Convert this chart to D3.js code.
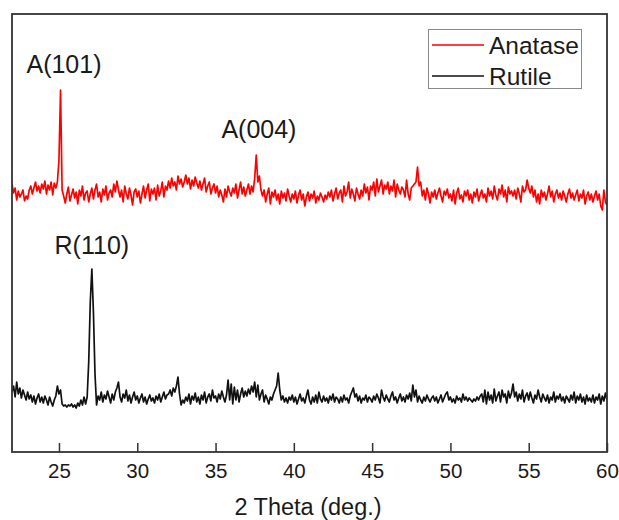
<!DOCTYPE html>
<html>
<head>
<meta charset="utf-8">
<script src="https://cdn.jsdelivr.net/npm/d3@7"></script>
<style>
  html, body { margin: 0; padding: 0; background: #fff; }
  svg { display: block; font-family: "Liberation Sans", Arial, sans-serif; }
</style>
</head>
<body>
<svg id="chart" width="619" height="520"></svg>
<script>
// 2θ grid: 22.0 → 60.0 in 0.1° steps
const twoThetaStart = 22.0;
const twoThetaStep = 0.1;

// Anatase intensity (a.u., stacked offset included), one row per degree
const anatase = [
  268,259,264,252,261,255,258,262,251,256,   // 22
  253,262,266,258,264,270,261,266,259,268,   // 23
  263,271,258,267,262,270,257,269,264,270,   // 24
  292,362,262,256,249,258,265,251,257,263,   // 25
  254,260,248,262,256,266,252,259,261,250,   // 26
  258,264,253,262,268,255,260,250,263,257,   // 27
  266,252,259,262,255,268,260,271,262,255,   // 28
  262,250,266,258,253,264,257,247,260,263,   // 29
  255,261,249,258,266,254,262,268,251,263,   // 30
  258,264,252,267,256,261,270,255,266,262,   // 31
  271,264,274,266,270,262,276,268,273,265,   // 32
  270,277,268,274,263,272,266,275,269,264,   // 33
  271,262,268,274,260,266,270,258,264,268,   // 34
  259,266,255,262,257,250,263,255,266,260,   // 35
  256,264,259,268,254,262,270,258,265,256,   // 36
  262,268,258,266,260,274,297,270,276,262,   // 37
  256,262,250,258,264,248,260,255,262,252,   // 38
  258,248,261,254,259,251,263,256,250,258,   // 39
  253,261,249,257,262,252,258,246,255,260,   // 40
  251,258,254,261,249,256,252,259,255,250,   // 41
  257,253,260,255,262,251,258,264,253,259,   // 42
  262,250,266,256,260,270,254,263,258,251,   // 43
  264,258,253,262,256,268,259,265,252,266,   // 44
  262,270,256,273,260,266,272,258,267,263,   // 45
  270,258,266,261,272,255,268,262,258,265,   // 46
  262,255,272,258,252,264,266,268,270,285,   // 47
  266,270,256,262,252,264,258,249,260,255,   // 48
  262,253,259,264,256,250,261,257,263,254,   // 49
  258,251,262,248,259,264,253,257,250,261,   // 50
  256,262,252,258,249,260,255,263,251,257,   // 51
  262,254,258,250,264,256,261,253,266,257,   // 52
  252,263,258,267,255,262,250,265,258,261,   // 53
  256,262,253,264,258,250,266,260,262,272,   // 54
  264,259,266,255,262,250,258,248,262,255,   // 55
  260,252,258,266,255,261,250,258,262,254,   // 56
  259,252,261,256,250,258,263,254,259,252,   // 57
  257,262,251,258,254,262,248,256,260,252,   // 58
  258,250,256,261,252,258,246,242,262,250,   // 59
  247                                        // 60
];

// Rutile intensity (a.u.)
const rutile = [
  60,66,55,70,58,64,54,62,57,52,   // 22
  60,53,57,50,56,48,54,58,50,55,   // 23
  49,56,52,47,55,50,46,52,56,66,   // 24
  58,62,48,46,47,45,47,46,48,45,   // 25
  47,44,49,46,52,47,55,48,55,90,   // 26
  150,183,140,78,47,56,52,60,50,57, // 27
  53,61,55,49,58,52,60,64,70,55,   // 28
  50,58,54,62,51,57,49,55,60,52,   // 29
  56,49,54,58,50,55,48,53,57,51,   // 30
  54,49,56,52,58,50,55,60,53,57,   // 31
  58,62,56,64,60,66,75,58,47,52,   // 32
  49,55,51,58,48,56,52,59,50,55,   // 33
  48,57,52,60,49,55,58,51,62,54,   // 34
  56,50,58,53,61,55,50,57,72,52,   // 35
  68,48,65,52,62,50,58,64,55,61,   // 36
  56,63,58,66,60,70,55,67,52,58,   // 37
  62,50,57,53,48,55,52,58,62,66,   // 38
  79,62,52,56,50,54,49,55,52,57,   // 39
  50,55,48,53,58,51,54,49,56,62,   // 40
  52,48,55,50,57,49,60,53,50,56,   // 41
  51,54,49,56,52,58,50,55,53,49,   // 42
  55,50,57,52,54,49,56,60,64,55,   // 43
  58,51,56,49,54,52,57,50,55,53,   // 44
  50,56,52,58,54,49,62,55,51,57,   // 45
  53,50,56,60,52,55,49,54,58,51,   // 46
  55,50,57,53,59,51,67,55,62,50,   // 47
  56,52,49,55,51,57,53,50,54,56,   // 48
  51,55,49,53,57,50,54,58,60,52,   // 49
  55,50,53,49,56,52,54,50,58,52,   // 50
  55,51,54,52,50,53,51,55,52,56,   // 51
  58,50,62,48,60,52,57,49,63,51,   // 52
  56,60,50,62,55,58,49,61,54,59,   // 53
  68,55,60,51,58,53,62,50,56,59,   // 54
  52,60,54,49,57,53,62,55,50,58,   // 55
  54,51,57,49,55,52,60,50,56,53,   // 56
  58,51,55,49,56,53,50,57,52,60,   // 57
  49,56,52,58,50,55,48,57,51,54,   // 58
  50,57,49,55,52,58,48,56,51,59,   // 59
  52                               // 60
];

const seriesNames = ["Anatase", "Rutile"];
const seriesColors = ["#ff0000", "#111111"];
const xTicks = [25, 30, 35, 40, 45, 50, 55, 60];
const xDomain = [22, 60];
const yDomain = [0, 438];

// peak labels: text, 2θ, intensity
const peakLabels = ["A(101)", "A(004)", "R(110)"];
const peakLabelX = [25.32, 37.77, 27.1];
const peakLabelY = [379, 314, 198];

const xTitle = "2 Theta (deg.)";

// ---------- drawing ----------
const svg = d3.select("#chart");
const m = { left: 12, top: 14, right: 12, bottom: 68 };
const W = 619, H = 520;
const x = d3.scaleLinear().domain(xDomain).range([m.left, W - m.right]);
const y = d3.scaleLinear().domain(yDomain).range([H - m.bottom, m.top]);

const toPoints = arr => arr.map((v, i) => [twoThetaStart + i * twoThetaStep, v]);
const line = d3.line().x(d => x(d[0])).y(d => y(d[1]));

svg.append("clipPath").attr("id", "clip")
  .append("rect").attr("x", m.left).attr("y", m.top)
  .attr("width", W - m.left - m.right).attr("height", H - m.top - m.bottom);

const plot = svg.append("g").attr("clip-path", "url(#clip)");
[anatase, rutile].forEach((arr, i) => {
  plot.append("path")
    .attr("d", line(toPoints(arr)))
    .attr("fill", "none")
    .attr("stroke", seriesColors[i])
    .attr("stroke-width", 1.7)
    .attr("stroke-linejoin", "round");
});

// axis (ticks inward)
const ax = svg.append("g")
  .attr("transform", `translate(0,${H - m.bottom})`)
  .call(d3.axisBottom(x).tickValues(xTicks).tickFormat(d3.format("d"))
    .tickSizeInner(-9).tickSizeOuter(0).tickPadding(11));
ax.select(".domain").remove();
ax.selectAll(".tick line").attr("stroke", "#333").attr("stroke-width", 1.5);
ax.selectAll(".tick text").attr("fill", "#1a1a1a")
  .style("font-size", "20.5px").style("font-family", "'Liberation Sans', Arial, sans-serif");

// frame
svg.append("rect")
  .attr("x", m.left).attr("y", m.top)
  .attr("width", W - m.left - m.right).attr("height", H - m.top - m.bottom)
  .attr("fill", "none").attr("stroke", "#333").attr("stroke-width", 1.8);

// axis title
svg.append("text")
  .attr("x", 308).attr("y", 515)
  .attr("text-anchor", "middle").attr("fill", "#1a1a1a")
  .style("font-size", "23.5px")
  .text(xTitle);

// peak labels
peakLabels.forEach((t, i) => {
  svg.append("text")
    .attr("x", x(peakLabelX[i])).attr("y", y(peakLabelY[i]))
    .attr("text-anchor", "middle").attr("fill", "#1a1a1a")
    .style("font-size", "25px")
    .text(t);
});

// legend
const lg = svg.append("g");
lg.append("rect").attr("x", 428.5).attr("y", 29.5).attr("width", 153).attr("height", 59)
  .attr("fill", "#fff").attr("stroke", "#888").attr("stroke-width", 1);
seriesNames.forEach((n, i) => {
  const yy = 45 + i * 31;
  lg.append("line").attr("x1", 432).attr("x2", 484).attr("y1", yy).attr("y2", yy)
    .attr("stroke", seriesColors[i]).attr("stroke-width", 1.7);
  lg.append("text").attr("x", 489).attr("y", yy + 8.5)
    .attr("fill", "#1a1a1a").style("font-size", "24.5px").text(n);
});
</script>
</body>
</html>
